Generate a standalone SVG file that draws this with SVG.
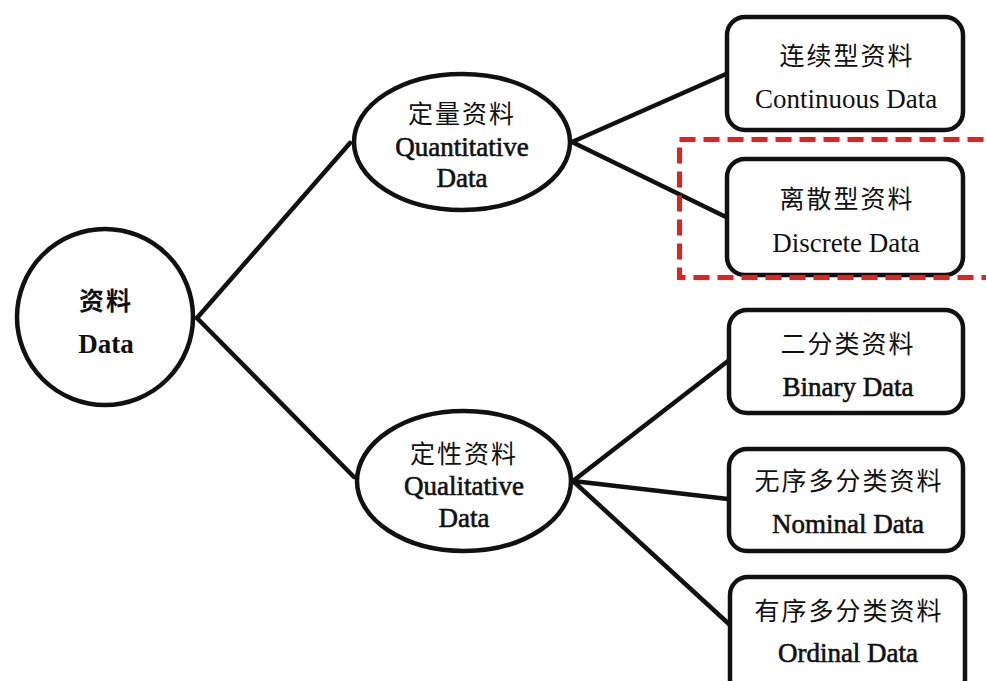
<svg xmlns="http://www.w3.org/2000/svg" width="986" height="681" viewBox="0 0 986 681">
<style>
.shape{fill:#fff;stroke:#111;stroke-width:4.5}
.conn line{stroke:#111;stroke-width:4.5;stroke-linecap:round}
.zh{font-family:"Noto Sans CJK SC",sans-serif;font-size:25px;letter-spacing:2px;text-anchor:middle;fill:#111}
.en{font-family:"Liberation Serif","Times New Roman",serif;font-size:27px;text-anchor:middle;fill:#111}
.heavy{stroke:#111;stroke-width:0.6}
.hl{fill:none;stroke:#e8201c;stroke-width:5;stroke-dasharray:16 8}
</style>
<rect width="986" height="681" fill="#fff"/>
<g id="connectors" class="conn">
<line x1="197" y1="318" x2="350" y2="143"/>
<line x1="197" y1="318" x2="354" y2="477"/>
<line x1="572" y1="142" x2="726" y2="74"/>
<line x1="572" y1="142" x2="726" y2="217"/>
<line x1="573" y1="481" x2="728" y2="361"/>
<line x1="573" y1="481" x2="728" y2="499"/>
<line x1="573" y1="481" x2="730" y2="625"/>
</g>
<g id="data">
<circle class="shape" cx="105" cy="317" r="88"/>
<text class="zh" x="106" y="310" font-weight="bold">资料</text>
<text class="en" x="106" y="353" font-weight="bold" font-size="25">Data</text>
</g>
<g id="quantitative">
<ellipse class="shape" cx="462" cy="142" rx="108" ry="68"/>
<text class="zh" x="462" y="123">定量资料</text>
<text class="en heavy" x="462" y="156">Quantitative</text>
<text class="en heavy" x="462" y="187">Data</text>
</g>
<g id="qualitative">
<ellipse class="shape" cx="464" cy="481" rx="107" ry="70"/>
<text class="zh" x="464" y="463">定性资料</text>
<text class="en heavy" x="464" y="495">Qualitative</text>
<text class="en heavy" x="464" y="527">Data</text>
</g>
<g id="continuous">
<rect class="shape" x="727" y="17" width="236" height="113" rx="18"/>
<text class="zh" x="847" y="65">连续型资料</text>
<text class="en" x="846" y="108">Continuous Data</text>
</g>
<g id="discrete">
<rect class="shape" x="727" y="159" width="236" height="116" rx="18"/>
<text class="zh" x="847" y="208">离散型资料</text>
<text class="en" x="846" y="252">Discrete Data</text>
</g>
<g id="highlight">
<rect class="hl" x="679.5" y="139.5" width="330" height="138"/>
</g>
<g id="binary">
<rect class="shape" x="729" y="310" width="234" height="103" rx="18"/>
<text class="zh" x="848" y="353">二分类资料</text>
<text class="en heavy" x="848" y="396">Binary Data</text>
</g>
<g id="nominal">
<rect class="shape" x="729" y="449" width="234" height="102" rx="18"/>
<text class="zh" x="849" y="490">无序多分类资料</text>
<text class="en heavy" x="848" y="533">Nominal Data</text>
</g>
<g id="ordinal">
<rect class="shape" x="730" y="577" width="235" height="120" rx="18"/>
<text class="zh" x="849" y="620">有序多分类资料</text>
<text class="en heavy" x="848" y="662">Ordinal Data</text>
</g>
</svg>
